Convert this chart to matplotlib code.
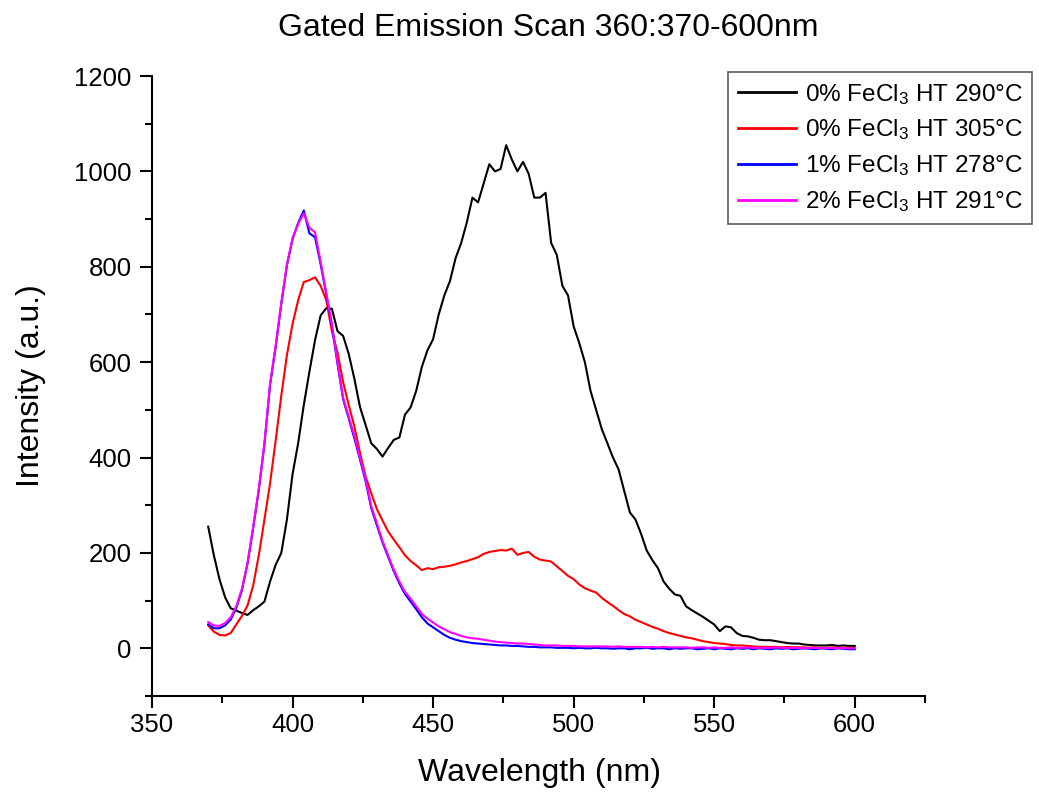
import matplotlib
matplotlib.use("Agg")
import matplotlib.pyplot as plt
from matplotlib.ticker import MultipleLocator
import numpy as np

plt.rcParams['font.family'] = ['Liberation Sans', 'DejaVu Sans']
plt.rcParams['mathtext.fontset'] = 'custom'
plt.rcParams['mathtext.rm'] = 'Liberation Sans'
plt.rcParams['mathtext.default'] = 'regular'

# wavelength grid (nm), 2 nm steps
wavelength = list(range(370, 601, 2))

# 0% FeCl3 HT 290C
black = [255, 195, 145, 107, 84, 79, 74, 70, 80, 88,
         98, 140, 175, 200, 270, 365, 430, 510, 580, 646,
         698, 713, 712, 665, 655, 617, 565, 506, 468, 430,
         418, 402, 420, 437, 442, 490, 505, 540, 590, 625,
         648, 700, 740, 770, 818, 850, 893, 945, 935, 975,
         1015, 1000, 1005, 1055, 1025, 1000, 1020, 995, 945, 945,
         955, 850, 825, 760, 740, 675, 640, 600, 540, 500,
         460, 430, 400, 375, 330, 285, 270, 240, 205, 185,
         168, 140, 125, 113, 110, 88, 80, 73, 66, 58,
         50, 36, 46, 44, 32, 26, 25, 22, 18, 17,
         17, 15, 13, 11, 10, 10, 8, 7, 6, 6,
         6, 7, 5, 6, 5, 5]

# 0% FeCl3 HT 305C
red = [48, 35, 28, 27, 32, 50, 68, 90, 132, 195,
       270, 346, 436, 530, 615, 680, 730, 768, 772, 778,
       760, 730, 665, 620, 558, 510, 465, 410, 360, 325,
       292, 268, 245, 228, 212, 195, 183, 174, 164, 168,
       166, 170, 171, 173, 176, 180, 183, 187, 191, 198,
       202, 204, 206, 205, 209, 196, 200, 202, 192, 186,
       184, 182, 172, 162, 152, 145, 134, 126, 121, 117,
       106, 97, 89, 80, 72, 67, 60, 55, 50, 45,
       41, 36, 32, 29, 26, 23, 21, 18, 15, 13,
       11, 10, 9, 7, 6, 6, 5, 4, 3, 3,
       3, 3, 2, 3, 2, 2, 2, 1, 2, 1,
       1, 2, 1, 1, 1, 1]

# 1% FeCl3 HT 278C
blue = [50, 42, 42, 48, 60, 85, 122, 178, 252, 332,
        428, 552, 632, 722, 803, 858, 892, 918, 870, 862,
        805, 742, 676, 596, 522, 482, 440, 396, 350, 294,
        258, 222, 192, 162, 136, 114, 98, 82, 65, 52,
        44, 36, 28, 22, 18, 15, 13, 11, 10, 9,
        8, 7, 6, 6, 5, 5, 4, 3, 3, 2,
        2, 2, 1, 1, 1, 0, 1, 0, 0, 1,
        0, 0, -1, 0, 0, -2, 0, 0, 1, -1,
        0, 0, -2, 0, -1, 0, 0, -2, -1, 0,
        -2, 0, -1, -2, 0, -1, 0, -2, 0, -1,
        -2, 0, -1, 0, -2, -1, 0, -1, -2, 0,
        -1, -2, 0, -1, -2, -2]

# 2% FeCl3 HT 291C
magenta = [55, 48, 47, 53, 65, 88, 125, 180, 255, 335,
           430, 555, 635, 725, 805, 860, 890, 912, 882, 872,
           810, 745, 680, 600, 525, 485, 445, 400, 355, 298,
           262, 225, 195, 165, 140, 118, 104, 88, 72, 62,
           54, 46, 40, 34, 30, 26, 23, 21, 20, 18,
           16, 14, 13, 12, 11, 10, 10, 9, 8, 7,
           6, 6, 6, 5, 5, 5, 4, 4, 4, 4,
           4, 4, 3, 4, 3, 3, 3, 3, 2, 3,
           2, 3, 2, 2, 2, 2, 1, 2, 2, 1,
           2, 1, 1, 2, 1, 1, 2, 1, 1, 1,
           1, 2, 1, 1, 1, 1, 0, 1, 1, 0,
           1, 0, 1, 0, 0, 0]

labels = [r'0% FeCl$_3$ HT 290°C', r'0% FeCl$_3$ HT 305°C',
          r'1% FeCl$_3$ HT 278°C', r'2% FeCl$_3$ HT 291°C']
colors = ['black', 'red', 'blue', 'magenta']

fig = plt.figure(figsize=(10.39, 7.97), dpi=100)
ax = fig.add_axes([152/1039, 1 - 696/797, (925-152)/1039, (696-76)/797])

for y, c, lab in zip([black, red, blue, magenta], colors, labels):
    ax.plot(wavelength, y, color=c, lw=1.5, label=lab)

ax.set_xlim(350, 625)
ax.set_ylim(-100, 1200)
ax.xaxis.set_major_locator(MultipleLocator(50))
ax.xaxis.set_minor_locator(MultipleLocator(25))
ax.yaxis.set_major_locator(MultipleLocator(200))
ax.yaxis.set_minor_locator(MultipleLocator(100))

for s in ['top', 'right']:
    ax.spines[s].set_visible(False)
for s in ['left', 'bottom']:
    ax.spines[s].set_linewidth(1.5)

ax.tick_params(which='major', direction='out', length=8.5, width=1.5, labelsize=18.5)
ax.tick_params(which='minor', direction='out', length=5, width=1.5)
ax.tick_params(axis='x', which='major', pad=4)
ax.tick_params(axis='y', which='major', pad=6)

ax.set_xlabel('Wavelength (nm)', fontsize=23, va='center')
ax.set_ylabel('Intensity (a.u.)', fontsize=23)
ax.xaxis.set_label_coords((540-152)/773, -(773-696)/620)
ax.yaxis.set_label_coords(-(152-46)/773, 0.5)

fig.text(548/1039, 1 - 28/797, 'Gated Emission Scan 360:370-600nm',
         fontsize=23, ha='center', va='center')

leg = ax.legend(loc='upper left', bbox_to_anchor=(728/1039, 1 - 72/797),
                bbox_transform=fig.transFigure, fontsize=17.5, frameon=True,
                fancybox=False, borderaxespad=0, handlelength=2.4,
                handletextpad=0.35, labelspacing=0.45, borderpad=0.4)
leg.get_frame().set_edgecolor('#333333')
leg.get_frame().set_linewidth(1.2)
for l in leg.get_lines():
    l.set_linewidth(2)

fig.savefig('out.png', dpi=100)
